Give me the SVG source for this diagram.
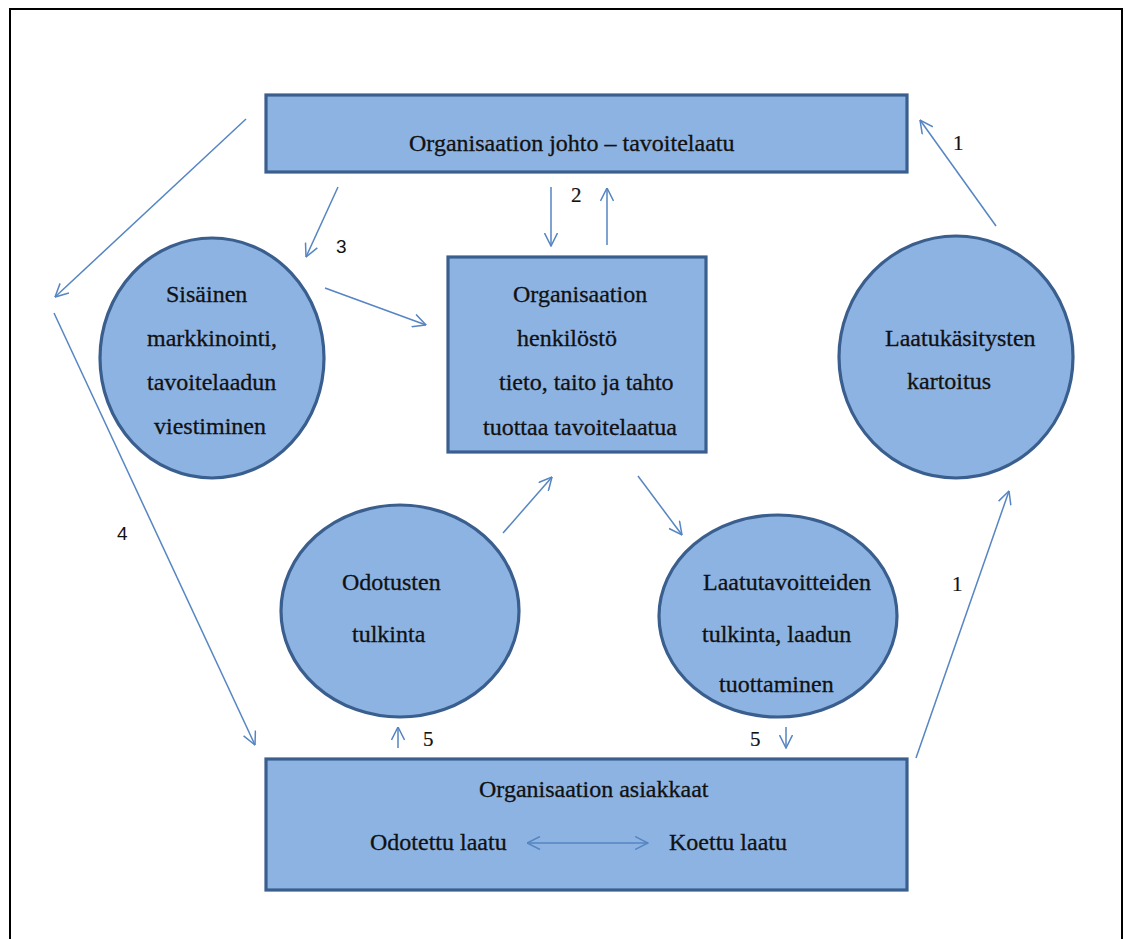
<svg xmlns="http://www.w3.org/2000/svg" width="1125" height="939" viewBox="0 0 1125 939">
<style>
.shape{fill:#8DB3E2;stroke:#3A5F8E;stroke-width:3.2}
.t{font-family:'Liberation Serif','DejaVu Serif',serif;font-size:24px;fill:#111;stroke:#111;stroke-width:0.3}
.n{font-family:'Liberation Serif','DejaVu Serif',serif;font-size:21px;fill:#111;stroke:#111;stroke-width:0.2}
.ns{font-family:'Liberation Sans',Arial,sans-serif;font-size:19px;fill:#111}
.c{stroke:#5585C2;stroke-width:1.5;fill:none;marker-end:url(#ah)}
</style>
<defs>
<marker id="ah" viewBox="0 0 14 14" refX="13.5" refY="7" markerWidth="14" markerHeight="14" markerUnits="userSpaceOnUse" orient="auto-start-reverse">
<path d="M0.5,0.5 L13.5,7 L0.5,13.5" fill="none" stroke="#5585C2" stroke-width="1.5"/>
</marker>
</defs>
<rect width="1125" height="939" fill="#fff"/>
<rect x="10" y="9" width="1112" height="945" fill="none" stroke="#000" stroke-width="2"/>

<g id="johto">
<rect class="shape" x="266" y="95" width="641" height="77"/>
<text class="t" x="409" y="151">Organisaation johto – tavoitelaatu</text>
</g>
<g id="henkilosto">
<rect class="shape" x="448" y="257" width="258" height="195"/>
<text class="t" x="513" y="302">Organisaation</text>
<text class="t" x="517" y="346">henkilöstö</text>
<text class="t" x="499" y="390">tieto, taito ja tahto</text>
<text class="t" x="483" y="435">tuottaa tavoitelaatua</text>
</g>
<g id="sisainen">
<ellipse class="shape" cx="212" cy="358" rx="112" ry="120"/>
<text class="t" x="166" y="302">Sisäinen</text>
<text class="t" x="147" y="346">markkinointi,</text>
<text class="t" x="147" y="390">tavoitelaadun</text>
<text class="t" x="154" y="434">viestiminen</text>
</g>
<g id="laatukasitysten">
<ellipse class="shape" cx="956" cy="357" rx="117" ry="121"/>
<text class="t" x="885" y="346">Laatukäsitysten</text>
<text class="t" x="907" y="389">kartoitus</text>
</g>
<g id="odotusten">
<ellipse class="shape" cx="400" cy="611" rx="119" ry="106"/>
<text class="t" x="342" y="590">Odotusten</text>
<text class="t" x="352" y="642">tulkinta</text>
</g>
<g id="laatutavoitteiden">
<ellipse class="shape" cx="778" cy="616" rx="119" ry="101"/>
<text class="t" x="703" y="590">Laatutavoitteiden</text>
<text class="t" x="702" y="642">tulkinta, laadun</text>
<text class="t" x="719" y="692">tuottaminen</text>
</g>
<g id="asiakkaat">
<rect class="shape" x="266" y="759" width="641" height="131"/>
<text class="t" x="479" y="797">Organisaation asiakkaat</text>
<text class="t" x="370" y="850">Odotettu laatu</text>
<text class="t" x="669" y="850">Koettu laatu</text>
</g>

<g id="connectors">
<line class="c" x1="246" y1="119" x2="55" y2="297"/>
<line class="c" x1="54" y1="313" x2="255" y2="745"/>
<line class="c" x1="338" y1="187" x2="306" y2="257"/>
<line class="c" x1="325" y1="288" x2="426" y2="325"/>
<line class="c" x1="551" y1="187" x2="551" y2="246"/>
<line class="c" x1="607" y1="245" x2="607" y2="188"/>
<line class="c" x1="996" y1="226" x2="920" y2="120"/>
<line class="c" x1="503" y1="533" x2="552" y2="477"/>
<line class="c" x1="638" y1="476" x2="682" y2="535"/>
<line class="c" x1="398" y1="748" x2="398" y2="727"/>
<line class="c" x1="786" y1="727" x2="786" y2="748"/>
<line class="c" x1="916" y1="758" x2="1009" y2="491"/>
<line class="c" x1="527" y1="843" x2="648" y2="843" marker-start="url(#ah)"/>
</g>
<g id="labels">
<text class="n" x="953" y="150">1</text>
<text class="n" x="571" y="202">2</text>
<text class="ns" x="336" y="253">3</text>
<text class="ns" x="117" y="540">4</text>
<text class="n" x="952" y="591">1</text>
<text class="n" x="423" y="746">5</text>
<text class="n" x="750" y="746">5</text>
</g>
</svg>
